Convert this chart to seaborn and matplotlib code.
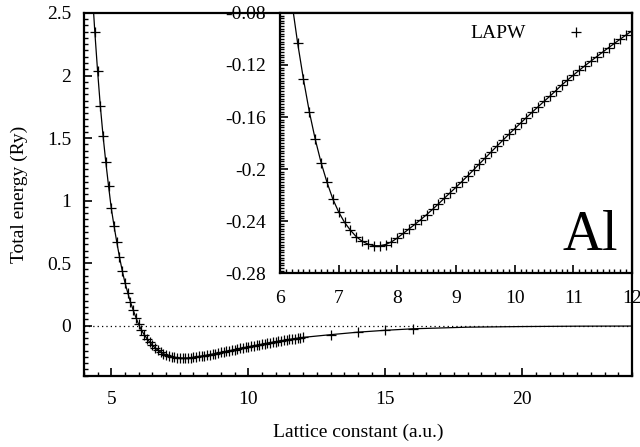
import numpy as np
import pandas as pd
import matplotlib
matplotlib.use("Agg")
import matplotlib.pyplot as plt
from matplotlib.ticker import MultipleLocator, FormatStrFormatter
import seaborn as sns

# LAPW total energy (Ry) vs lattice constant (a.u.) for Al
lattice = [4.4, 4.5, 4.6, 4.7, 4.8, 4.9, 5.0, 5.1, 5.2, 5.3,
           5.4, 5.5, 5.6, 5.7, 5.8, 5.9, 6.0, 6.1, 6.2, 6.3,
           6.4, 6.5, 6.6, 6.7, 6.8, 6.9, 7.0, 7.1, 7.2, 7.3,
           7.4, 7.5, 7.6, 7.7, 7.8, 7.9, 8.0, 8.1, 8.2, 8.3,
           8.4, 8.5, 8.6, 8.7, 8.8, 8.9, 9.0, 9.1, 9.2, 9.3,
           9.4, 9.5, 9.6, 9.7, 9.8, 9.9, 10.0, 10.1, 10.2, 10.3,
           10.4, 10.5, 10.6, 10.7, 10.8, 10.9, 11.0, 11.1, 11.2, 11.3,
           11.4, 11.5, 11.6, 11.7, 11.8, 11.9, 12.0, 13.0, 14.0, 15.0, 16.0]
energy = [2.35, 2.04, 1.76, 1.52, 1.31, 1.12, 0.94, 0.80, 0.67, 0.55,
          0.44, 0.345, 0.265, 0.19, 0.125, 0.065, 0.01, -0.035, -0.071, -0.103,
          -0.131, -0.156, -0.177, -0.195, -0.210, -0.223, -0.233, -0.241, -0.247, -0.252,
          -0.2555, -0.2577, -0.2589, -0.2590, -0.2580, -0.2560, -0.2530, -0.2495, -0.2460, -0.2425,
          -0.2388, -0.2350, -0.2310, -0.2268, -0.2225, -0.2182, -0.2140, -0.2096, -0.2052, -0.2006,
          -0.1960, -0.1914, -0.1868, -0.1823, -0.1778, -0.1734, -0.1690, -0.1647, -0.1604, -0.1562,
          -0.1521, -0.1480, -0.1440, -0.1398, -0.1355, -0.1316, -0.1278, -0.1241, -0.1205, -0.1170,
          -0.1135, -0.1101, -0.1067, -0.1034, -0.1001, -0.0969, -0.0937, -0.072, -0.052, -0.037, -0.025]

# extra points of the fitted curve outside the LAPW range
fit_head_lattice = [4.3]
fit_head_energy = [2.70]
fit_tail_lattice = [18.0, 20.0, 22.0, 24.0]
fit_tail_energy = [-0.012, -0.007, -0.004, -0.003]

main_xticks = [5, 10, 15, 20]
main_yticks = [0, 0.5, 1, 1.5, 2, 2.5]
inset_xticks = [6, 7, 8, 9, 10, 11, 12]
inset_yticks = [-0.28, -0.24, -0.2, -0.16, -0.12, -0.08]

pts = pd.DataFrame({"a": lattice, "E": energy})
fit = pd.DataFrame({"a": fit_head_lattice + lattice + fit_tail_lattice,
                    "E": fit_head_energy + energy + fit_tail_energy})

sns.set_theme(style="ticks")
plt.rcParams["font.family"] = ["Liberation Serif", "DejaVu Serif"]
plt.rcParams["axes.unicode_minus"] = False
plt.rcParams["xtick.direction"] = "in"
plt.rcParams["ytick.direction"] = "in"
for k in ("text.color", "axes.labelcolor", "xtick.color", "ytick.color",
          "xtick.labelcolor", "ytick.labelcolor", "axes.edgecolor"):
    plt.rcParams[k] = "black"

FS = 14
fig = plt.figure(figsize=(6.4, 4.47), dpi=100)
ax = fig.add_axes([0.131, 0.1595, 0.8565, 0.8115])
axin = fig.add_axes([0.4375, 0.389, 0.55, 0.582])


def draw(a, ms, mew, label=None):
    sns.lineplot(data=fit, x="a", y="E", ax=a, color="black", lw=0.9,
                 sort=True, errorbar=None, estimator=None, legend=False)
    sns.scatterplot(data=pts, x="a", y="E", ax=a, marker="+", s=ms, color="black",
                    linewidth=mew, label=label, legend=False, zorder=3)


draw(ax, 45, 0.9)
ax.axhline(0, color="black", lw=0.9, ls=(0, (1, 2.5)), zorder=1)
ax.set_xlim(4, 24)
ax.set_ylim(-0.4, 2.5)
ax.set_xticks(main_xticks)
ax.set_yticks(main_yticks)
ax.xaxis.set_minor_locator(MultipleLocator(0.5))
ax.yaxis.set_minor_locator(MultipleLocator(0.05))
ax.yaxis.set_major_formatter(FormatStrFormatter("%g"))
ax.set_xlabel("Lattice constant (a.u.)", fontsize=FS, labelpad=11)
ax.set_ylabel("Total energy (Ry)", fontsize=FS, labelpad=14)

draw(axin, 45, 0.9, label="LAPW")
axin.set_facecolor("white")
axin.set_xlim(6, 12)
axin.set_ylim(-0.28, -0.08)
axin.set_xticks(inset_xticks)
axin.set_yticks(inset_yticks)
axin.xaxis.set_minor_locator(MultipleLocator(0.1))
axin.yaxis.set_minor_locator(MultipleLocator(0.002))
axin.yaxis.set_major_formatter(FormatStrFormatter("%g"))
axin.set_xlabel("")
axin.set_ylabel("")
axin.text(0.96, 0.088, "Al", transform=axin.transAxes, ha="right", va="baseline",
          fontsize=40)
axin.legend(loc="upper right", markerfirst=False, frameon=False, fontsize=FS,
            handletextpad=1.6, borderaxespad=0.3, bbox_to_anchor=(0.935, 1.01))

for a in (ax, axin):
    for s in a.spines.values():
        s.set_linewidth(1.6)
        s.set_color("black")
    a.tick_params(axis="both", which="major", length=6, width=1.2, labelsize=FS,
                  top=False, right=False, colors="black")
    a.tick_params(axis="both", which="minor", length=3, width=1.0,
                  top=False, right=False)
ax.tick_params(axis="x", which="major", pad=11)
ax.tick_params(axis="y", which="major", pad=9)
axin.tick_params(axis="x", which="major", pad=12)
axin.tick_params(axis="y", which="major", pad=10)

fig.savefig("out.png", dpi=100)
